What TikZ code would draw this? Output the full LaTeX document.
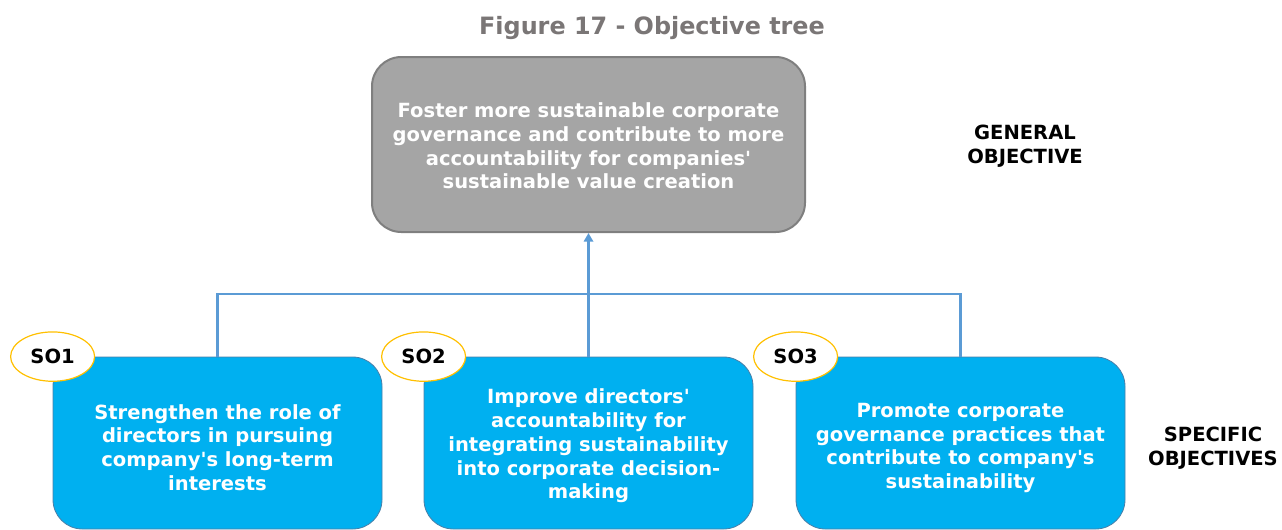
\documentclass[tikz,border=0pt]{standalone}
\usepackage{fontspec}
\setmainfont{DejaVu Sans}[Ligatures=TeXOff]
\usetikzlibrary{arrows.meta,shapes.geometric}
\definecolor{boxgray}{HTML}{A5A5A5}
\definecolor{boxgrayline}{HTML}{7F7F7F}
\definecolor{soblue}{HTML}{00B0F0}
\definecolor{sobline}{HTML}{4A7FA8}
\definecolor{conn}{HTML}{5B9BD5}
\definecolor{ringc}{HTML}{FFC000}
\definecolor{titlegray}{HTML}{7A7676}
\tikzset{
  bodyfont/.style={font=\fontsize{14.65}{17.8}\selectfont\bfseries},
  genbox/.style={draw=boxgrayline, line width=1.5pt, fill=boxgray, rounded corners=22pt,
    minimum width=324.75pt, minimum height=131.25pt, inner sep=0pt},
  sobox/.style={draw=sobline, line width=0.6pt, fill=soblue, rounded corners=22pt,
    minimum width=246.75pt, minimum height=129pt, inner sep=0pt},
  boxtext/.style={align=center, text=white, bodyfont, inner sep=0pt},
  soring/.style={ellipse, draw=ringc, line width=0.9pt, fill=white, minimum width=63pt, minimum height=37pt,
    inner sep=0pt, bodyfont, text=black},
  sidelabel/.style={align=center, bodyfont, text=black},
  conline/.style={draw=conn, line width=1.6pt},
  conarrow/.style={draw=conn, line width=2.2pt, -{Triangle[width=7pt,length=6.5pt]}},
}
\begin{document}
\begin{tikzpicture}[x=0.75pt,y=-0.75pt]
\useasboundingbox (0,0) rectangle (1282,529);
\node[font=\fontsize{17.9}{20}\selectfont\bfseries, text=titlegray] (title) at (652,28) {Figure 17 - Objective tree};
\node[genbox] (gen) at (588.5,144.5) {};
\node[boxtext] (gent) at (588.5,146) {Foster more sustainable corporate\\governance and contribute to more\\accountability for companies'\\sustainable value creation};
\node[sidelabel] (genlab) at (1025,146) {GENERAL\\OBJECTIVE};
\coordinate (bar) at (588.5,294);
\node[sobox] (so1) at (217.5,443) {};
\node[sobox] (so2) at (588.5,443) {};
\node[sobox] (so3) at (960.5,443) {};
\node[boxtext] (so1t) at (217.5,447.5) {Strengthen the role of\\directors in pursuing\\company's long-term\\interests};
\node[boxtext] (so2t) at (588.5,446) {Improve directors'\\accountability for\\integrating sustainability\\into corporate decision-\\making};
\node[boxtext] (so3t) at (960.5,448) {Promote corporate\\governance practices that\\contribute to company's\\sustainability};
\draw[conline] (so1.north) |- (bar) -| (so3.north);
\draw[conarrow] (so2.north) -- (gen.south);
\node[soring] (r1) at (so1.north west) {SO1};
\node[soring] (r2) at (so2.north west) {SO2};
\node[soring] (r3) at (so3.north west) {SO3};
\node[sidelabel] (solab) at (1213,448) {SPECIFIC\\OBJECTIVES};
\end{tikzpicture}
\end{document}
